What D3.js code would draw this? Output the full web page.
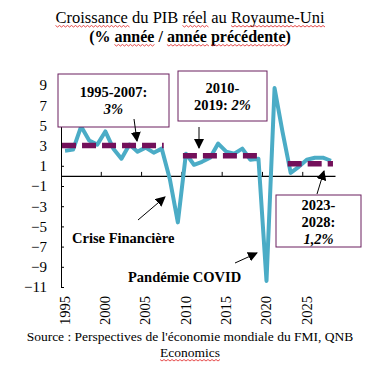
<!DOCTYPE html>
<html>
<head>
<meta charset="utf-8">
<script src="https://cdn.jsdelivr.net/npm/d3@7"></script>
<style>
  body { margin: 0; background: #fff; }
  svg { display: block; font-family: "Liberation Serif", "Times New Roman", serif; }
</style>
</head>
<body>
<script>
const years = [1995, 1996, 1997, 1998, 1999, 2000, 2001, 2002, 2003, 2004, 2005, 2006,
  2007, 2008, 2009, 2010, 2011, 2012, 2013, 2014, 2015, 2016, 2017, 2018, 2019, 2020,
  2021, 2022, 2023, 2024, 2025, 2026, 2027, 2028];
const growth = [2.5, 2.6, 4.9, 3.5, 3.1, 4.4, 2.7, 1.7, 3.1, 2.4, 2.8, 2.3,
  2.7, -0.3, -4.6, 2.2, 1.1, 1.4, 1.8, 3.2, 2.4, 2.2, 2.7, 1.6, 1.7, -10.4,
  8.7, 4.3, 0.3, 0.9, 1.6, 1.8, 1.8, 1.5];
const periods = [
  { from: 1995, to: 2007, avg: 3 },
  { from: 2010, to: 2019, avg: 2 },
  { from: 2023, to: 2028, avg: 1.2 }
];
const yTicks = [9, 7, 5, 3, 1, -1, -3, -5, -7, -9, -11];
const xLabels = [1995, 2000, 2005, 2010, 2015, 2020, 2025];

const W = 377, H = 377;
const svg = d3.select("body").append("svg").attr("width", W).attr("height", H);

const x = d3.scaleBand().domain(years).range([61, 335]).paddingInner(0).paddingOuter(0);
const cx = d => x(d) + x.bandwidth() / 2;
const y = d3.scaleLinear().domain([-11, 9]).range([287, 85]);

// title
const title1 = svg.append("text").attr("x", 190).attr("y", 23).attr("text-anchor", "middle")
  .attr("font-size", 16.5).text("Croissance du PIB réel au Royaume-Uni");
const title2 = svg.append("text").attr("x", 190).attr("y", 42).attr("text-anchor", "middle")
  .attr("font-size", 16).attr("font-weight", "bold").text("(% année / année précédente)");

// y axis
svg.append("g").attr("transform", "translate(61,0)")
  .call(d3.axisLeft(y).tickValues(yTicks).tickSizeInner(-3).tickSizeOuter(0).tickPadding(14))
  .call(g => g.selectAll("text").attr("font-family", "Liberation Serif").attr("font-size", 15).attr("fill", "#000"))
  .call(g => g.selectAll("line, path").attr("stroke", "#000"));

// x axis at zero, ticks between categories
const xAxis = svg.append("g").attr("transform", `translate(0,${y(0)})`)
  .call(d3.axisBottom(x).tickValues([2000, 2005, 2010, 2015, 2020, 2025]).tickSizeInner(0).tickSizeOuter(0).tickFormat(""))
  .call(g => g.select("path").attr("stroke", "#000").attr("stroke-width", 1.2));
xAxis.selectAll(".tick").attr("transform", d => `translate(${x(d)},0)`);
xAxis.selectAll(".tick line").attr("y2", -4).attr("stroke", "#000");

// x labels (rotated)
svg.append("g").selectAll("text").data(xLabels).join("text")
  .attr("transform", d => `translate(${cx(d)},296) rotate(-90)`)
  .attr("text-anchor", "end").attr("dy", "0.33em")
  .attr("font-size", 14.5).text(d => d);

// growth line
svg.append("path")
  .datum(years.map((yr, i) => [cx(yr), y(growth[i])]))
  .attr("fill", "none").attr("stroke", "#4bacc6").attr("stroke-width", 4)
  .attr("stroke-linejoin", "round")
  .attr("d", d3.line());

// period averages
svg.append("g").selectAll("line").data(periods).join("line")
  .attr("x1", d => cx(d.from) - 3).attr("x2", d => cx(d.to) + 2)
  .attr("y1", d => y(d.avg)).attr("y2", d => y(d.avg))
  .attr("stroke", "#73105a").attr("stroke-width", 5.5).attr("stroke-dasharray", "14,6");

// annotation boxes
const boxes = [
  { x: 58, y: 74, w: 111, h: 53, lines: [[["1995-2007:", "bold"]], [["3%", "italic"]]], ys: [97, 114] },
  { x: 178, y: 71, w: 89, h: 50, lines: [[["2010-", "bold"]], [["2019: ", "bold"], ["2%", "italic"]]], ys: [93, 110] },
  { x: 276, y: 195, w: 85, h: 52, lines: [[["2023-", "bold"]], [["2028:", "bold"]], [["1,2%", "italic"]]], ys: [210, 227, 244] }
];
boxes.forEach(b => {
  svg.append("rect").attr("x", b.x).attr("y", b.y).attr("width", b.w).attr("height", b.h)
    .attr("fill", "#fff").attr("stroke", "#6b1f5f").attr("stroke-width", 1);
  b.lines.forEach((parts, i) => {
    const t = svg.append("text").attr("x", b.x + b.w / 2).attr("y", b.ys[i])
      .attr("text-anchor", "middle").attr("font-size", 14.5);
    parts.forEach(([s, st]) => {
      const ts = t.append("tspan").text(s).attr("font-weight", "bold");
      if (st === "italic") ts.attr("font-style", "italic");
    });
  });
});

// arrows
svg.append("defs").append("marker").attr("id", "ah")
  .attr("viewBox", "0 0 10 10").attr("refX", 9).attr("refY", 5)
  .attr("markerWidth", 10).attr("markerHeight", 10).attr("markerUnits", "userSpaceOnUse")
  .attr("orient", "auto")
  .append("path").attr("d", "M0,0 L10,5 L0,10 z").attr("fill", "#000");
const arrows = [
  [134, 119, 137, 141],
  [199, 127, 199, 148],
  [317, 194, 324, 171],
  [138, 220, 165, 197],
  [235, 263, 257, 253]
];
svg.append("g").selectAll("line").data(arrows).join("line")
  .attr("x1", d => d[0]).attr("y1", d => d[1]).attr("x2", d => d[2]).attr("y2", d => d[3])
  .attr("stroke", "#000").attr("stroke-width", 1).attr("marker-end", "url(#ah)");

svg.append("text").attr("x", 72).attr("y", 243).attr("font-size", 14.5).attr("font-weight", "bold")
  .text("Crise Financière");
svg.append("text").attr("x", 128).attr("y", 282).attr("font-size", 14.5).attr("font-weight", "bold")
  .text("Pandémie COVID");

// source
svg.append("text").attr("x", 190).attr("y", 341).attr("text-anchor", "middle").attr("font-size", 13.5)
  .text("Source : Perspectives de l'économie mondiale du FMI, QNB");
const src2 = svg.append("text").attr("x", 190).attr("y", 357).attr("text-anchor", "middle").attr("font-size", 13.5)
  .text("Economics");

// spell-check squiggles under words: [word, occurrence]
function squiggle(textSel, words) {
  const node = textSel.node();
  const full = node.textContent;
  const x0 = +textSel.attr("x") - node.getComputedTextLength() / 2;
  const yb = +textSel.attr("y") + 2.5;
  words.forEach(([wd, n]) => {
    let idx = -1;
    for (let k = 0; k <= n; k++) idx = full.indexOf(wd, idx + 1);
    const a = x0 + (idx > 0 ? node.getSubStringLength(0, idx) : 0);
    const w = node.getSubStringLength(idx, wd.length);
    let d = `M${a},${yb}`;
    for (let p = 0; p < w; p += 2) d += `L${a + p + 2},${yb + ((p / 2) % 2 === 0 ? 1.5 : 0)}`;
    svg.append("path").attr("d", d).attr("fill", "none").attr("stroke", "#e02020").attr("stroke-width", 0.8);
  });
}
squiggle(title1, [["Croissance", 0], ["réel", 0], ["Royaume-Uni", 0]]);
squiggle(title2, [["année", 0], ["année", 1], ["précédente", 0]]);
squiggle(src2, [["Economics", 0]]);
</script>
</body>
</html>
